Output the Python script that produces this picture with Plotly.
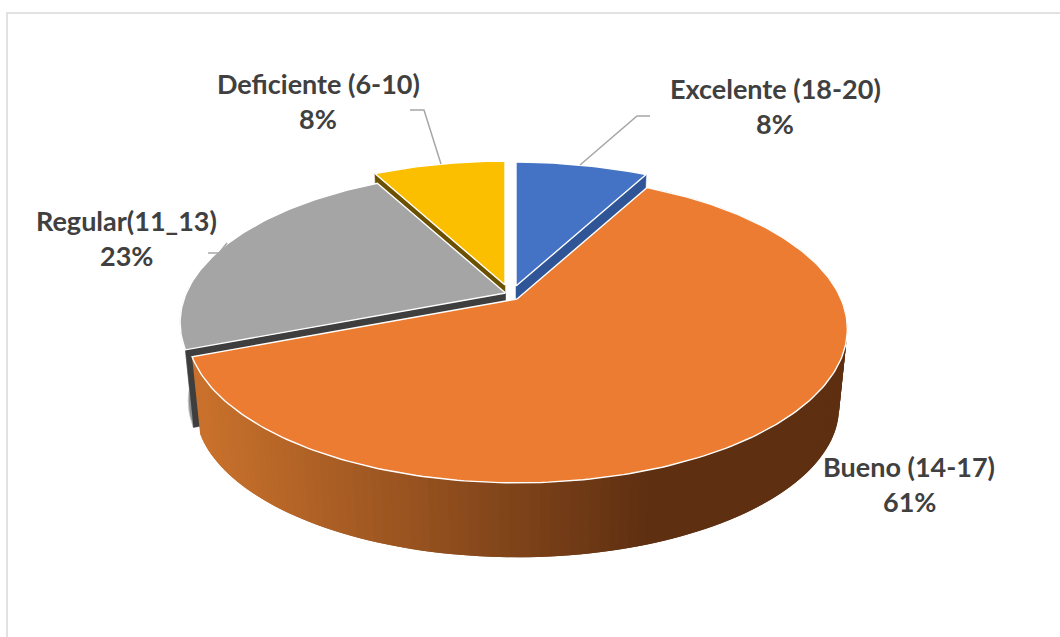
import math
import plotly.graph_objects as go

# ---- data ----
categories = ["Excelente (18-20)", "Bueno (14-17)", "Regular(11_13)", "Deficiente (6-10)"]
values = [7.8, 61.3, 23.1, 7.8]

# ---- styling / geometry of the tilted, exploded pie ----
top_colors = ["#4472C4", "#EB7C31", "#A5A5A5", "#FBBF00"]
cut_colors = ["#2F5597", "#3F2010", "#3E3E3E", "#6B5000"]
apex_px = [(516, 286), (517, 299), (505.5, 293), (505, 285)]
slice_scale = [1.0, 1.0, 0.985, 1.0]
A, B, K = 324.0, 148.0, 0.195   # perspective of the disc
DEPTH, FLOOR = 79.0, 0.975      # extruded height, shrink of lower rim
label_xy = [(775, 88), (909, 466), (126, 220), (318, 83)]
LINE_GAP = 35
leaders = [
    ([580, 637, 650], [165, 116, 116]),
    None,
    ([208, 219, 227], [253, 253, 243]),
    ([441, 424, 410], [164, 110, 110]),
]

total = sum(values)
edges = [0.0]
for v in values:
    edges.append(edges[-1] + 360.0 * v / total)


def project(i, deg, lower=False):
    t = math.radians(deg)
    u, v = math.sin(t), -math.cos(t)
    s = 1.0 / (1.0 - K * v)
    f = slice_scale[i] * (FLOOR if lower else 1.0)
    ax, ay = apex_px[i]
    return ax + A * u * s * f, ay + (DEPTH if lower else 0.0) + B * v * s * f


def apex(i, lower=False):
    ax, ay = apex_px[i]
    return ax, ay + (DEPTH if lower else 0.0)


def poly(pts, color, line_color=None, width=0.0):
    xs = [p[0] for p in pts] + [pts[0][0]]
    ys = [p[1] for p in pts] + [pts[0][1]]
    return go.Scatter(x=xs, y=ys, mode="lines", fill="toself", fillcolor=color,
                      line=dict(color=line_color or color, width=width),
                      hoverinfo="skip", showlegend=False)


def top_face(i):
    a, b = edges[i], edges[i + 1]
    n = max(4, int((b - a) / 1.0))
    pts = [apex(i)] + [project(i, a + (b - a) * k / n) for k in range(n + 1)]
    return poly(pts, top_colors[i], "#FFFFFF", 1.4)


def cut_face(i, deg):
    return poly([apex(i), project(i, deg), project(i, deg, True), apex(i, True)],
                cut_colors[i], cut_colors[i], 0.5)


def lerp_hex(c1, c2, w):
    a = [int(c1[j:j + 2], 16) for j in (1, 3, 5)]
    b = [int(c2[j:j + 2], 16) for j in (1, 3, 5)]
    return "#" + "".join(f"{round(x + (y - x) * w):02X}" for x, y in zip(a, b))


def wall_color(x):
    w = min(1.0, max(0.0, (x - 200.0) / 440.0))
    return lerp_hex("#C9712C", "#5E2F11", w)


traces = []
# yellow
traces += [cut_face(3, edges[3]), top_face(3)]
# blue
traces += [cut_face(0, edges[1]), top_face(0)]
# gray: outer wall, cut face and top
g0 = edges[2]
gray_wall = [project(2, g0 + d) for d in range(0, 26, 2)] + \
            [project(2, g0 + d, True) for d in range(24, -2, -2)]
traces += [poly(gray_wall, "#8C8C8C", "#C8C8C8", 1.0), cut_face(2, g0), top_face(2)]
# orange wall: overlapping strips, so that no background shows between them
a, b = edges[1], edges[2]
n = 150
step = (b - a) / n
for k in range(n):
    d0 = a + step * k
    d1 = d0 + step
    back = max(a, d0 - step)
    quad = [project(1, back), project(1, d1), project(1, d1, True), project(1, back, True)]
    mid = [project(1, d0), project(1, d1), project(1, d1, True), project(1, d0, True)]
    traces.append(poly(quad, wall_color(sum(p[0] for p in mid) / 4)))
traces.append(top_face(1))

# leader lines
for item in leaders:
    if item:
        traces.append(go.Scatter(x=item[0], y=item[1], mode="lines",
                                 line=dict(color="#A6A6A6", width=1.5),
                                 hoverinfo="skip", showlegend=False))

fig = go.Figure(traces)

font = dict(family="Lato, Carlito, Calibri, sans-serif", size=27, color="#404040", weight="bold")
for name, val, (x, y) in zip(categories, values, label_xy):
    for text, yy in ((name, y), (f"{round(val)}%", y + LINE_GAP)):
        fig.add_annotation(x=x, y=yy, text=f"<b>{text}</b>", showarrow=False,
                           xanchor="center", yanchor="middle", font=font)

fig.add_shape(type="path", path="M 7 637 L 7 13 L 1060 13",
              line=dict(color="#D9D9D9", width=1.5))

fig.update_layout(
    width=1060, height=637, margin=dict(l=0, r=0, t=0, b=0),
    paper_bgcolor="white", plot_bgcolor="white", showlegend=False,
    xaxis=dict(range=[0, 1060], visible=False, fixedrange=True),
    yaxis=dict(range=[637, 0], visible=False, fixedrange=True),
)
fig.write_html("out.html", config=dict(displayModeBar=False),
               post_script="document.body.style.margin='0';document.body.style.overflow='hidden';")
